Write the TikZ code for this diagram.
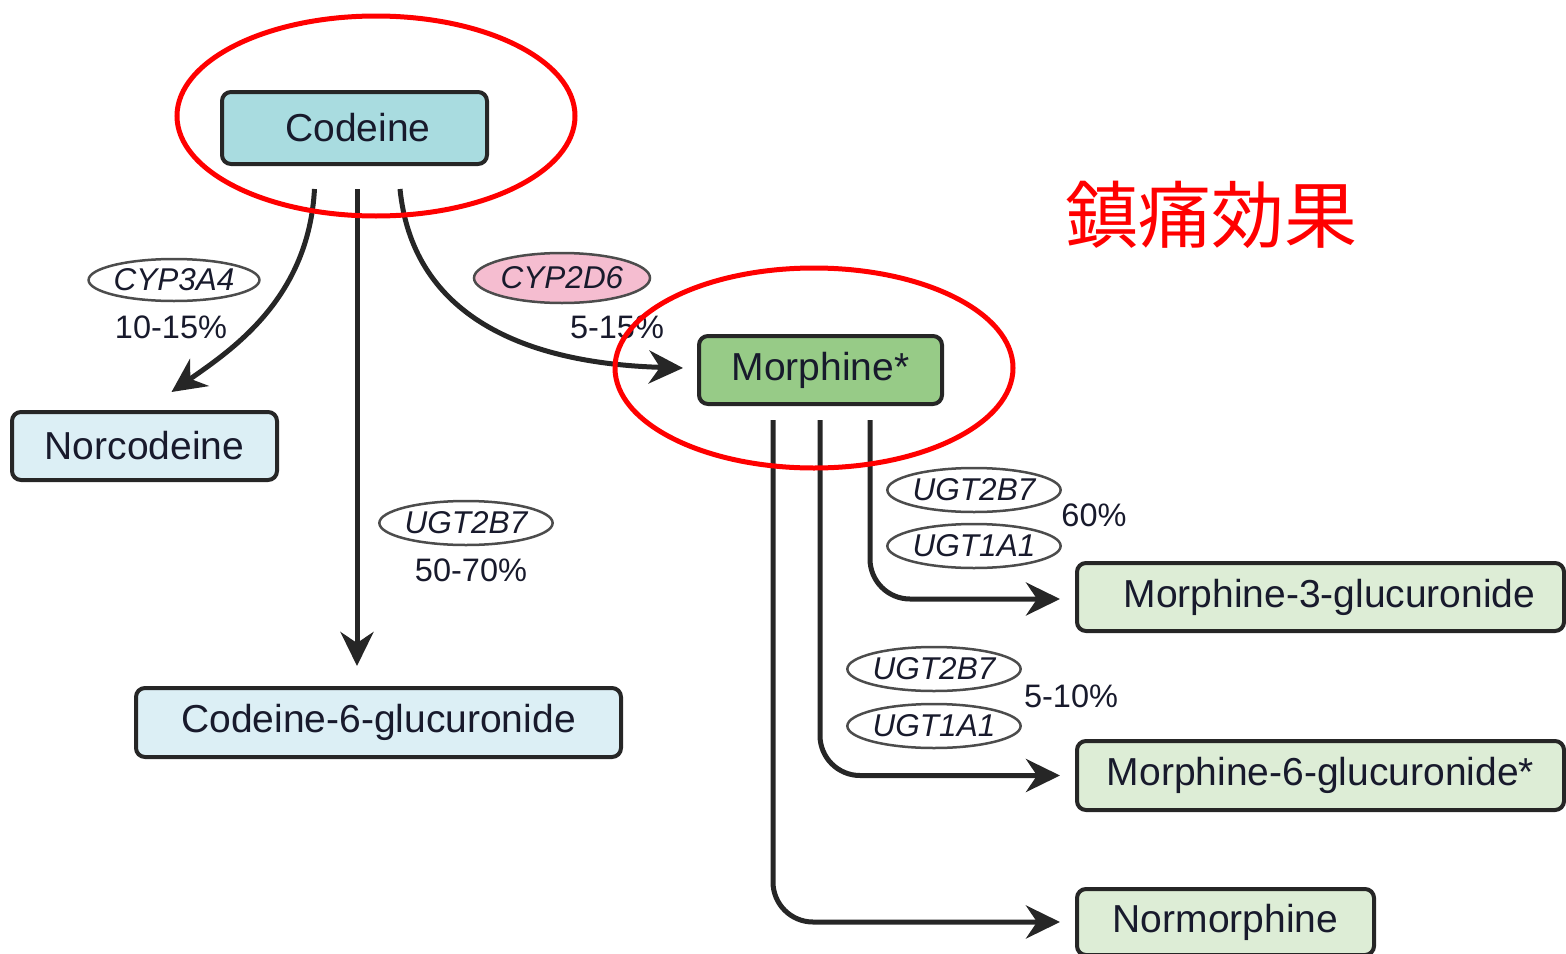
\documentclass[tikz,border=0pt]{standalone}
\usepackage{fontspec}
\setmainfont{Liberation Sans}
\newfontfamily\jpfont{Noto Sans CJK JP}
\usetikzlibrary{arrows.meta,shapes.geometric,calc}

\definecolor{inkc}{HTML}{181A2C}
\definecolor{edgec}{HTML}{262626}
\definecolor{codfill}{HTML}{A9DCE0}
\definecolor{palecod}{HTML}{DCEFF5}
\definecolor{morfill}{HTML}{97CB87}
\definecolor{palemor}{HTML}{DDEDD6}
\definecolor{pinkfill}{HTML}{F5BDD0}
\definecolor{ringc}{HTML}{FF0000}

\tikzset{
  cpd/.style={draw=edgec, line width=4pt, rounded corners=9pt, text=inkc,
    font=\fontsize{39}{45}\selectfont, inner sep=0pt},
  enz/.style={ellipse, draw=black!70, line width=2.5pt, fill=white, text=inkc,
    font=\fontsize{31.5}{36}\selectfont\itshape, inner sep=0pt},
  pct/.style={text=inkc, font=\fontsize{32.5}{38}\selectfont, inner sep=0pt},
  flow/.style={draw=edgec, line width=5pt,
    -{Stealth[length=34pt,width=33pt,inset=11pt]}},
  ring/.style={draw=ringc, line width=5pt},
}

\begin{document}
\begin{tikzpicture}[x=1pt,y=-1pt]
\useasboundingbox (0,0) rectangle (1566,953);

% compound boxes
\node[cpd, fill=codfill, minimum width=265pt, minimum height=72pt] (cod) at (354.5,128) {\hspace*{7pt}Codeine};
\node[cpd, fill=palecod, minimum width=265pt, minimum height=68pt] (norc) at (144.5,446) {Norcodeine};
\node[cpd, fill=palecod, minimum width=485pt, minimum height=69pt] (c6g) at (378.5,722.5) {Codeine-6-glucuronide};
\node[cpd, fill=morfill, minimum width=243pt, minimum height=68pt] (mor) at (820.5,370) {Morphine*};
\node[cpd, fill=palemor, minimum width=487pt, minimum height=68pt] (m3g) at (1320.5,597) {\hspace*{18pt}Morphine-3-glucuronide};
\node[cpd, fill=palemor, minimum width=487pt, minimum height=69pt] (m6g) at (1320.5,775.5) {Morphine-6-glucuronide*};
\node[cpd, fill=palemor, minimum width=297pt, minimum height=66pt] (norm) at (1225.5,922) {Normorphine};

% connector end points
\coordinate (cA) at ($(cod.south)+(-40,23)$);
\coordinate (cB) at ($(cod.south)+(2.5,23)$);
\coordinate (cC) at ($(cod.south)+(45.5,23)$);
\coordinate (tA) at ($(norc.north)+(27,-18)$);
\coordinate (tB) at ($(c6g.north)+(-21.5,-20)$);
\coordinate (tC) at ($(mor.west)+(-14,-2)$);
\coordinate (mA) at ($(mor.south)+(-47.5,14)$);
\coordinate (mB) at ($(mor.south)+(-0.5,14)$);
\coordinate (mC) at ($(mor.south)+(49.5,14)$);

% codeine branches
\draw[flow] (cA) .. controls ($(cA)+(-6,110)$) and ($(tA)+(60,-42)$) .. (tA);
\draw[flow] (cB) -- (tB);
\draw[flow] (cC) .. controls ($(cC)+(12,120)$) and ($(tC)+(-170,-5)$) .. (tC);

% morphine branches
\draw[flow, rounded corners=40pt] (mC) |- ($(m3g.west)+(-15,2)$);
\draw[flow, rounded corners=40pt] (mB) |- ($(m6g.west)+(-15,0)$);
\draw[flow, rounded corners=40pt] (mA) |- ($(norm.west)+(-15,0)$);

% enzyme labels and fractions
\node[enz, minimum width=160pt, minimum height=42pt] (e1) at (174,280) {CYP3A4};
\node[pct] (p1) at (171,327) {10-15\%};
\node[enz, fill=pinkfill, minimum width=176pt, minimum height=50pt] (e2) at (562,278) {CYP2D6};
\node[pct] (p2) at (617,327) {5-15\%};
\node[enz, minimum width=160pt, minimum height=44pt] (e3) at (466,523) {UGT2B7};
\node[pct] (p3) at (471,570) {50-70\%};
\node[enz, minimum width=162pt, minimum height=44pt] (e4) at (974,490) {UGT2B7};
\node[enz, minimum width=162pt, minimum height=44pt] (e5) at (974,546) {UGT1A1};
\node[pct] (p4) at (1094,515) {60\%};
\node[enz, minimum width=162pt, minimum height=44pt] (e6) at (934,669) {UGT2B7};
\node[enz, minimum width=162pt, minimum height=44pt] (e7) at (934,726) {UGT1A1};
\node[pct] (p5) at (1071,696) {5-10\%};

% highlight rings
\draw[ring] (376,116) ellipse [x radius=199pt, y radius=100pt];
\draw[ring] (814,368) ellipse [x radius=199pt, y radius=100pt];

\node[text=ringc, font=\jpfont\fontsize{73}{80}\selectfont, inner sep=0pt] (eff) at (1211,215) {鎮痛効果};
\end{tikzpicture}
\end{document}
